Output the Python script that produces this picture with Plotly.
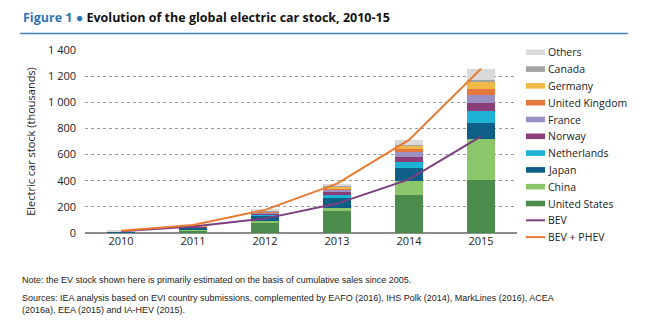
import plotly.graph_objects as go

years = ["2010", "2011", "2012", "2013", "2014", "2015"]

united_states = [3.8, 22, 76, 165, 290, 404]
china = [1.9, 7, 16, 30, 105, 312]
japan = [3.5, 13, 40, 69, 102, 126]
netherlands = [0.3, 1.1, 7, 30, 45, 88]
norway = [3.4, 5.4, 10, 20, 43, 66]
france = [0.3, 3, 10, 19, 31, 56]
united_kingdom = [0.7, 1.4, 3, 8, 24, 50]
germany = [0.5, 2.3, 5, 12, 27, 50]
canada = [0.1, 0.5, 2, 5, 10, 18]
others = [2, 5, 8, 20, 35, 87]

bev = [14, 50, 110, 225, 410, 740]
bev_phev = [17, 61, 177, 378, 712, 1257]

y_ticks = [0, 200, 400, 600, 800, 1000, 1200, 1400]
y_tick_labels = ["0", "200", "400", "600", "800", "1 000", "1 200", "1 400"]

series = [
    ("United States", united_states, "#4b8c4c"),
    ("China", china, "#8cc66a"),
    ("Japan", japan, "#0d5f88"),
    ("Netherlands", netherlands, "#1db3d6"),
    ("Norway", norway, "#8b3e78"),
    ("France", france, "#9b8fc4"),
    ("United Kingdom", united_kingdom, "#e4773b"),
    ("Germany", germany, "#efb847"),
    ("Canada", canada, "#a3a3a3"),
    ("Others", others, "#d9d9d9"),
]
lines = [
    ("BEV", bev, "#7d3f80"),
    ("BEV + PHEV", bev_phev, "#e87b32"),
]

W, H = 650, 321
ML, MR, MT, MB = 85, 133, 50, 88
PW, PH = W - ML - MR, H - MT - MB

def px_x(px):
    return (px - ML) / PW

def px_y(py):
    return (H - MB - py) / PH

fig = go.Figure()
for name, vals, color in series:
    fig.add_trace(go.Bar(x=years, y=vals, name=name, marker_color=color,
                         marker_line_width=0, width=0.4))
for name, vals, color in lines:
    fig.add_trace(go.Scatter(x=years, y=vals, name=name, mode="lines",
                             line=dict(color=color, width=2)))

font_family = "Open Sans, Liberation Sans, sans-serif"
note_family = "Liberation Sans, Arial, sans-serif"

fig.update_layout(
    width=W, height=H,
    margin=dict(l=ML, r=MR, t=MT, b=MB),
    paper_bgcolor="white", plot_bgcolor="white",
    barmode="stack", bargap=0.6,
    font=dict(family=font_family, size=11, color="#222222"),
    showlegend=False,
    xaxis=dict(showgrid=False, showline=False, ticks="", tickfont=dict(size=11)),
    yaxis=dict(range=[0, 1400], tickvals=y_ticks, ticktext=y_tick_labels,
               showgrid=True, gridcolor="#9a9a9a", griddash="dot", gridwidth=1,
               zeroline=True, zerolinecolor="#8c8c8c", zerolinewidth=1.5,
               showline=False, ticks="", ticklabelstandoff=8,
               title=dict(text="Electric car stock (thousands)", font=dict(size=11), standoff=10)),
)

# legend (custom, to match compact spacing of the original)
legend_items = [(n, c, "bar") for n, _, c in reversed(series)] + [(n, c, "line") for n, _, c in lines]
row0, step = 52.3, 16.8
for i, (name, color, kind) in enumerate(legend_items):
    yc = row0 + i * step
    if kind == "bar":
        fig.add_shape(type="rect", xref="paper", yref="paper",
                      x0=px_x(526), x1=px_x(545), y0=px_y(yc + 2.8), y1=px_y(yc - 2.8),
                      fillcolor=color, line_width=0)
    else:
        fig.add_shape(type="line", xref="paper", yref="paper",
                      x0=px_x(526), x1=px_x(545), y0=px_y(yc), y1=px_y(yc),
                      line=dict(color=color, width=2))
    fig.add_annotation(xref="paper", yref="paper", x=px_x(546), y=px_y(yc),
                       xanchor="left", yanchor="middle", showarrow=False, text=name,
                       font=dict(size=10.5, family=font_family, color="#222222"))

fig.add_annotation(xref="paper", yref="paper", x=px_x(21), y=px_y(17), xanchor="left", yanchor="middle",
                   showarrow=False,
                   text="<b><span style='color:#2e75b6'>Figure 1 ●</span> Evolution of the global electric car stock, 2010-15</b>",
                   font=dict(size=12.5, family=font_family, color="#111111"))
fig.add_shape(type="line", xref="paper", yref="paper", x0=px_x(20), x1=px_x(628),
              y0=px_y(33.5), y1=px_y(33.5), line=dict(color="#4a7fc0", width=1.5))

fig.add_annotation(xref="paper", yref="paper", x=px_x(20), y=px_y(280), xanchor="left", yanchor="middle",
                   showarrow=False,
                   text="Note: the EV stock shown here is primarily estimated on the basis of cumulative sales since 2005.",
                   font=dict(size=9, family=note_family, color="#222222"))
fig.add_annotation(xref="paper", yref="paper", x=px_x(20), y=px_y(303.5), xanchor="left", yanchor="middle",
                   showarrow=False, align="left",
                   text="Sources: IEA analysis based on EVI country submissions, complemented by EAFO (2016), IHS Polk (2014), MarkLines (2016), ACEA<br>(2016a), EEA (2015) and IA-HEV (2015).",
                   font=dict(size=9, family=note_family, color="#222222"))

fig.write_html("out.html")
